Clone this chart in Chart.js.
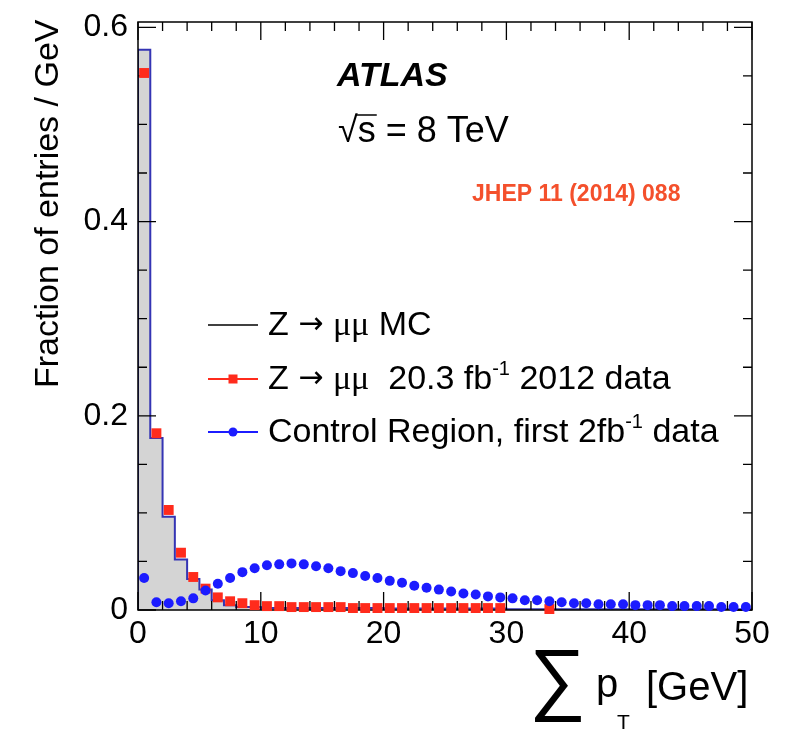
<!DOCTYPE html>
<html>
<head>
<meta charset="utf-8">
<script src="https://cdn.jsdelivr.net/npm/chart.js@4.4.1/dist/chart.umd.min.js"></script>
<style>
  html, body { margin: 0; padding: 0; background: #fff; }
  #wrap { width: 787px; height: 730px; }
</style>
</head>
<body>
<div id="wrap"><canvas id="c" width="787" height="730"></canvas></div>
<script>
// ===== DATA =====
const binEdges = [0,1,2,3,4,5,6,7,8,9,10,11,12,13,14,15,16,17,18,19,20,21,22,23,24,25,26,27,28,29,30,
  31,32,33,34,35,36,37,38,39,40,41,42,43,44,45,46,47,48,49,50];
const binCenters = [0.5,1.5,2.5,3.5,4.5,5.5,6.5,7.5,8.5,9.5,10.5,11.5,12.5,13.5,14.5,15.5,16.5,17.5,18.5,19.5,
  20.5,21.5,22.5,23.5,24.5,25.5,26.5,27.5,28.5,29.5,30.5,31.5,32.5,33.5,34.5,35.5,36.5,37.5,38.5,39.5,
  40.5,41.5,42.5,43.5,44.5,45.5,46.5,47.5,48.5,49.5];

// Z -> mumu MC (histogram, fraction / GeV)
const mcValues = [0.577,0.177,0.096,0.052,0.032,0.021,0.010,0.005,0.003,0.003,
  0.002,0.002,0.002,0.002,0.002,0.002,0.002,0.002,0.002,0.002,
  0.0015,0.0015,0.0015,0.0015,0.0015,0.0015,0.0015,0.0015,0.0015,0.0015,
  0.0008,0.0008,0.0008,0.0008,0.0008,0.0008,0.0008,0.0008,0.0008,0.0008,
  0.0008,0.0008,0.0008,0.0008,0.0008,0.0008,0.0008,0.0008,0.0008,0.0008];

// Z -> mumu 20.3 fb-1 2012 data
const zDataValues = [0.553,0.182,0.103,0.059,0.034,0.022,0.013,0.009,0.007,0.005,
  0.004,0.004,0.003,0.003,0.003,0.003,0.003,0.002,0.002,0.002,
  0.002,0.002,0.002,0.002,0.002,0.002,0.002,0.002,0.002,0.002,
  null,null,null,0.001,null,null,null,null,null,null,
  null,null,null,null,null,null,null,null,null,null];

// Control region, first 2 fb-1 data
const crValues = [0.033,0.008,0.007,0.009,0.012,0.020,0.027,0.033,0.039,0.043,
  0.046,0.047,0.048,0.047,0.045,0.043,0.040,0.038,0.035,0.033,
  0.030,0.028,0.025,0.023,0.021,0.019,0.017,0.016,0.014,0.013,
  0.012,0.010,0.010,0.009,0.008,0.007,0.007,0.006,0.006,0.006,
  0.005,0.005,0.005,0.004,0.004,0.004,0.004,0.003,0.003,0.003];

const yTickValues = [0, 0.2, 0.4, 0.6];

// ===== STYLE =====
const FONT = '"Liberation Sans", Arial, Helvetica, sans-serif';
const SERIF = '"Liberation Serif", "Times New Roman", serif';
const RED = '#ff2b1c';
const BLUE = '#1c1cff';
const HIST_LINE = '#3434b4';

// histogram points: step outline from x=0 up to x=50
const histPts = [{ x: binEdges[0], y: 0 }];
mcValues.forEach((v, i) => histPts.push({ x: binEdges[i], y: v }));
histPts.push({ x: binEdges[binEdges.length - 1], y: mcValues[mcValues.length - 1] });

const zPts = [];
zDataValues.forEach((v, i) => { if (v !== null) zPts.push({ x: binCenters[i], y: v }); });
const crPts = crValues.map((v, i) => ({ x: binCenters[i], y: v }));

// ===== HELPERS =====
function drawRuns(ctx, x, y, runs) {
  runs.forEach(r => {
    ctx.font = r.f;
    ctx.fillText(r.t, x, y + (r.dy || 0));
    x += ctx.measureText(r.t).width;
  });
}

// frame + ROOT-style inner ticks
const frameTicks = {
  id: 'frameTicks',
  afterDatasetDraw(chart, args) {
    if (args.index !== 0) return;
    const { ctx, chartArea: a, scales: { x, y } } = chart;
    ctx.save();
    ctx.strokeStyle = '#000';
    ctx.lineWidth = 1.3;
    ctx.beginPath();
    for (let v = 0; v <= 50.001; v += 2) {
      const px = x.getPixelForValue(v);
      const len = (Math.round(v) % 10 === 0) ? 18 : 9;
      ctx.moveTo(px, a.bottom); ctx.lineTo(px, a.bottom - len);
      ctx.moveTo(px, a.top); ctx.lineTo(px, a.top + len);
    }
    for (let k = 0; k <= 12; k++) {
      const v = k * 0.05;
      const py = y.getPixelForValue(v);
      const len = (k % 4 === 0) ? 18 : 9;
      ctx.moveTo(a.left, py); ctx.lineTo(a.left + len, py);
      ctx.moveTo(a.right, py); ctx.lineTo(a.right - len, py);
    }
    ctx.stroke();
    ctx.lineWidth = 1.5;
    ctx.strokeRect(a.left, a.top, a.right - a.left, a.bottom - a.top);
    ctx.restore();
  }
};

// titles, labels and legend
const annotations = {
  id: 'annotations',
  afterDraw(chart) {
    const ctx = chart.ctx;
    ctx.save();
    ctx.fillStyle = '#000';
    ctx.textAlign = 'left';
    ctx.textBaseline = 'alphabetic';

    // y title
    ctx.save();
    ctx.translate(58, 388);
    ctx.rotate(-Math.PI / 2);
    ctx.font = '34px ' + FONT;
    ctx.fillText('Fraction of entries / GeV', 0, 0);
    ctx.restore();

    // x title: sum pT [GeV]
    ctx.font = '80px ' + FONT;
    ctx.fillText('∑', 529, 705);
    ctx.font = '40px ' + FONT;
    ctx.fillText('p', 596, 697);
    ctx.font = '21px ' + FONT;
    ctx.fillText('T', 617, 729);
    ctx.font = '40px ' + FONT;
    ctx.fillText('[GeV]', 646, 700);

    // ATLAS label
    ctx.font = 'italic bold 34px ' + FONT;
    ctx.fillText('ATLAS', 337, 86);

    // sqrt(s) = 8 TeV
    ctx.font = '36px ' + FONT;
    const x0 = 338, base = 142;
    ctx.fillText('√', x0, base);
    const w1 = ctx.measureText('√').width;
    const ws = ctx.measureText('s').width;
    ctx.fillText('s = 8 TeV', x0 + w1, base);
    ctx.lineWidth = 1.5;
    ctx.beginPath();
    ctx.moveTo(x0 + w1 - 2, base - 27);
    ctx.lineTo(x0 + w1 + ws + 1, base - 27);
    ctx.stroke();

    // reference
    ctx.fillStyle = '#f4502c';
    ctx.font = 'bold 23px ' + FONT;
    ctx.fillText('JHEP 11 (2014) 088', 472, 201);

    // legend
    const F = '34px ' + FONT, ARR = '30px "DejaVu Sans", sans-serif', MU = '34px ' + SERIF, SUP = '20px ' + FONT;
    const rows = [
      { y: 325, color: '#000', marker: null,
        runs: [{ t: 'Z ', f: F }, { t: '→ ', f: ARR, dy: -2 }, { t: 'μμ', f: MU }, { t: ' MC', f: F }] },
      { y: 379, color: RED, marker: 'rect',
        runs: [{ t: 'Z ', f: F }, { t: '→ ', f: ARR, dy: -2 }, { t: 'μμ', f: MU }, { t: '  20.3 fb', f: F },
               { t: '-1', f: SUP, dy: -14 }, { t: ' 2012 data', f: F }] },
      { y: 432, color: BLUE, marker: 'circle',
        runs: [{ t: 'Control Region, first 2fb', f: F }, { t: '-1', f: SUP, dy: -14 }, { t: ' data', f: F }] }
    ];
    rows.forEach(r => {
      ctx.strokeStyle = r.color;
      ctx.fillStyle = r.color;
      ctx.lineWidth = r.marker ? 2 : 1.5;
      ctx.beginPath();
      ctx.moveTo(208, r.y); ctx.lineTo(258, r.y);
      ctx.stroke();
      if (r.marker === 'rect') ctx.fillRect(228.5, r.y - 4.5, 9, 9);
      if (r.marker === 'circle') { ctx.beginPath(); ctx.arc(233, r.y, 4.5, 0, Math.PI * 2); ctx.fill(); }
      ctx.fillStyle = '#000';
      drawRuns(ctx, 268, r.y + 10, r.runs);
    });
    ctx.restore();
  }
};

// ===== CHART =====
new Chart(document.getElementById('c'), {
  type: 'line',
  data: {
    datasets: [
      {
        label: 'Z → μμ MC',
        data: histPts,
        stepped: 'before',
        fill: 'origin',
        backgroundColor: '#d4d4d4',
        borderColor: HIST_LINE,
        borderWidth: 2,
        pointRadius: 0,
        order: 3
      },
      {
        label: 'Z → μμ 20.3 fb-1 2012 data',
        data: zPts,
        showLine: false,
        pointStyle: 'rect',
        pointRadius: 7,
        pointBorderWidth: 0,
        pointBackgroundColor: RED,
        borderColor: RED,
        clip: 10,
        order: 2
      },
      {
        label: 'Control Region, first 2fb-1 data',
        data: crPts,
        showLine: false,
        pointStyle: 'circle',
        pointRadius: 5,
        pointBorderWidth: 0,
        pointBackgroundColor: BLUE,
        borderColor: BLUE,
        clip: 10,
        order: 1
      }
    ]
  },
  options: {
    responsive: false,
    devicePixelRatio: 1,
    animation: false,
    layout: { padding: { top: 22, right: 35, bottom: 0, left: 0 } },
    plugins: { legend: { display: false }, tooltip: { enabled: false } },
    elements: { line: { tension: 0 } },
    scales: {
      x: {
        type: 'linear', min: 0, max: 50,
        grid: { display: false, drawTicks: false },
        border: { display: false },
        ticks: { stepSize: 10, color: '#000', padding: 5, maxRotation: 0,
                 font: { family: FONT, size: 32 } },
        afterFit: s => { s.height = 120; s.paddingLeft = 0; s.paddingRight = 0; }
      },
      y: {
        type: 'linear', min: 0, max: 0.6055,
        grid: { display: false, drawTicks: false },
        border: { display: false },
        afterBuildTicks: s => { s.ticks = yTickValues.map(v => ({ value: v })); },
        ticks: { color: '#000', padding: 10,
                 font: { family: FONT, size: 32 },
                 callback: v => v === 0 ? '0' : v.toFixed(1) },
        afterFit: s => { s.width = 138; s.paddingTop = 0; s.paddingBottom = 0; }
      }
    }
  },
  plugins: [frameTicks, annotations]
});
</script>
</body>
</html>
